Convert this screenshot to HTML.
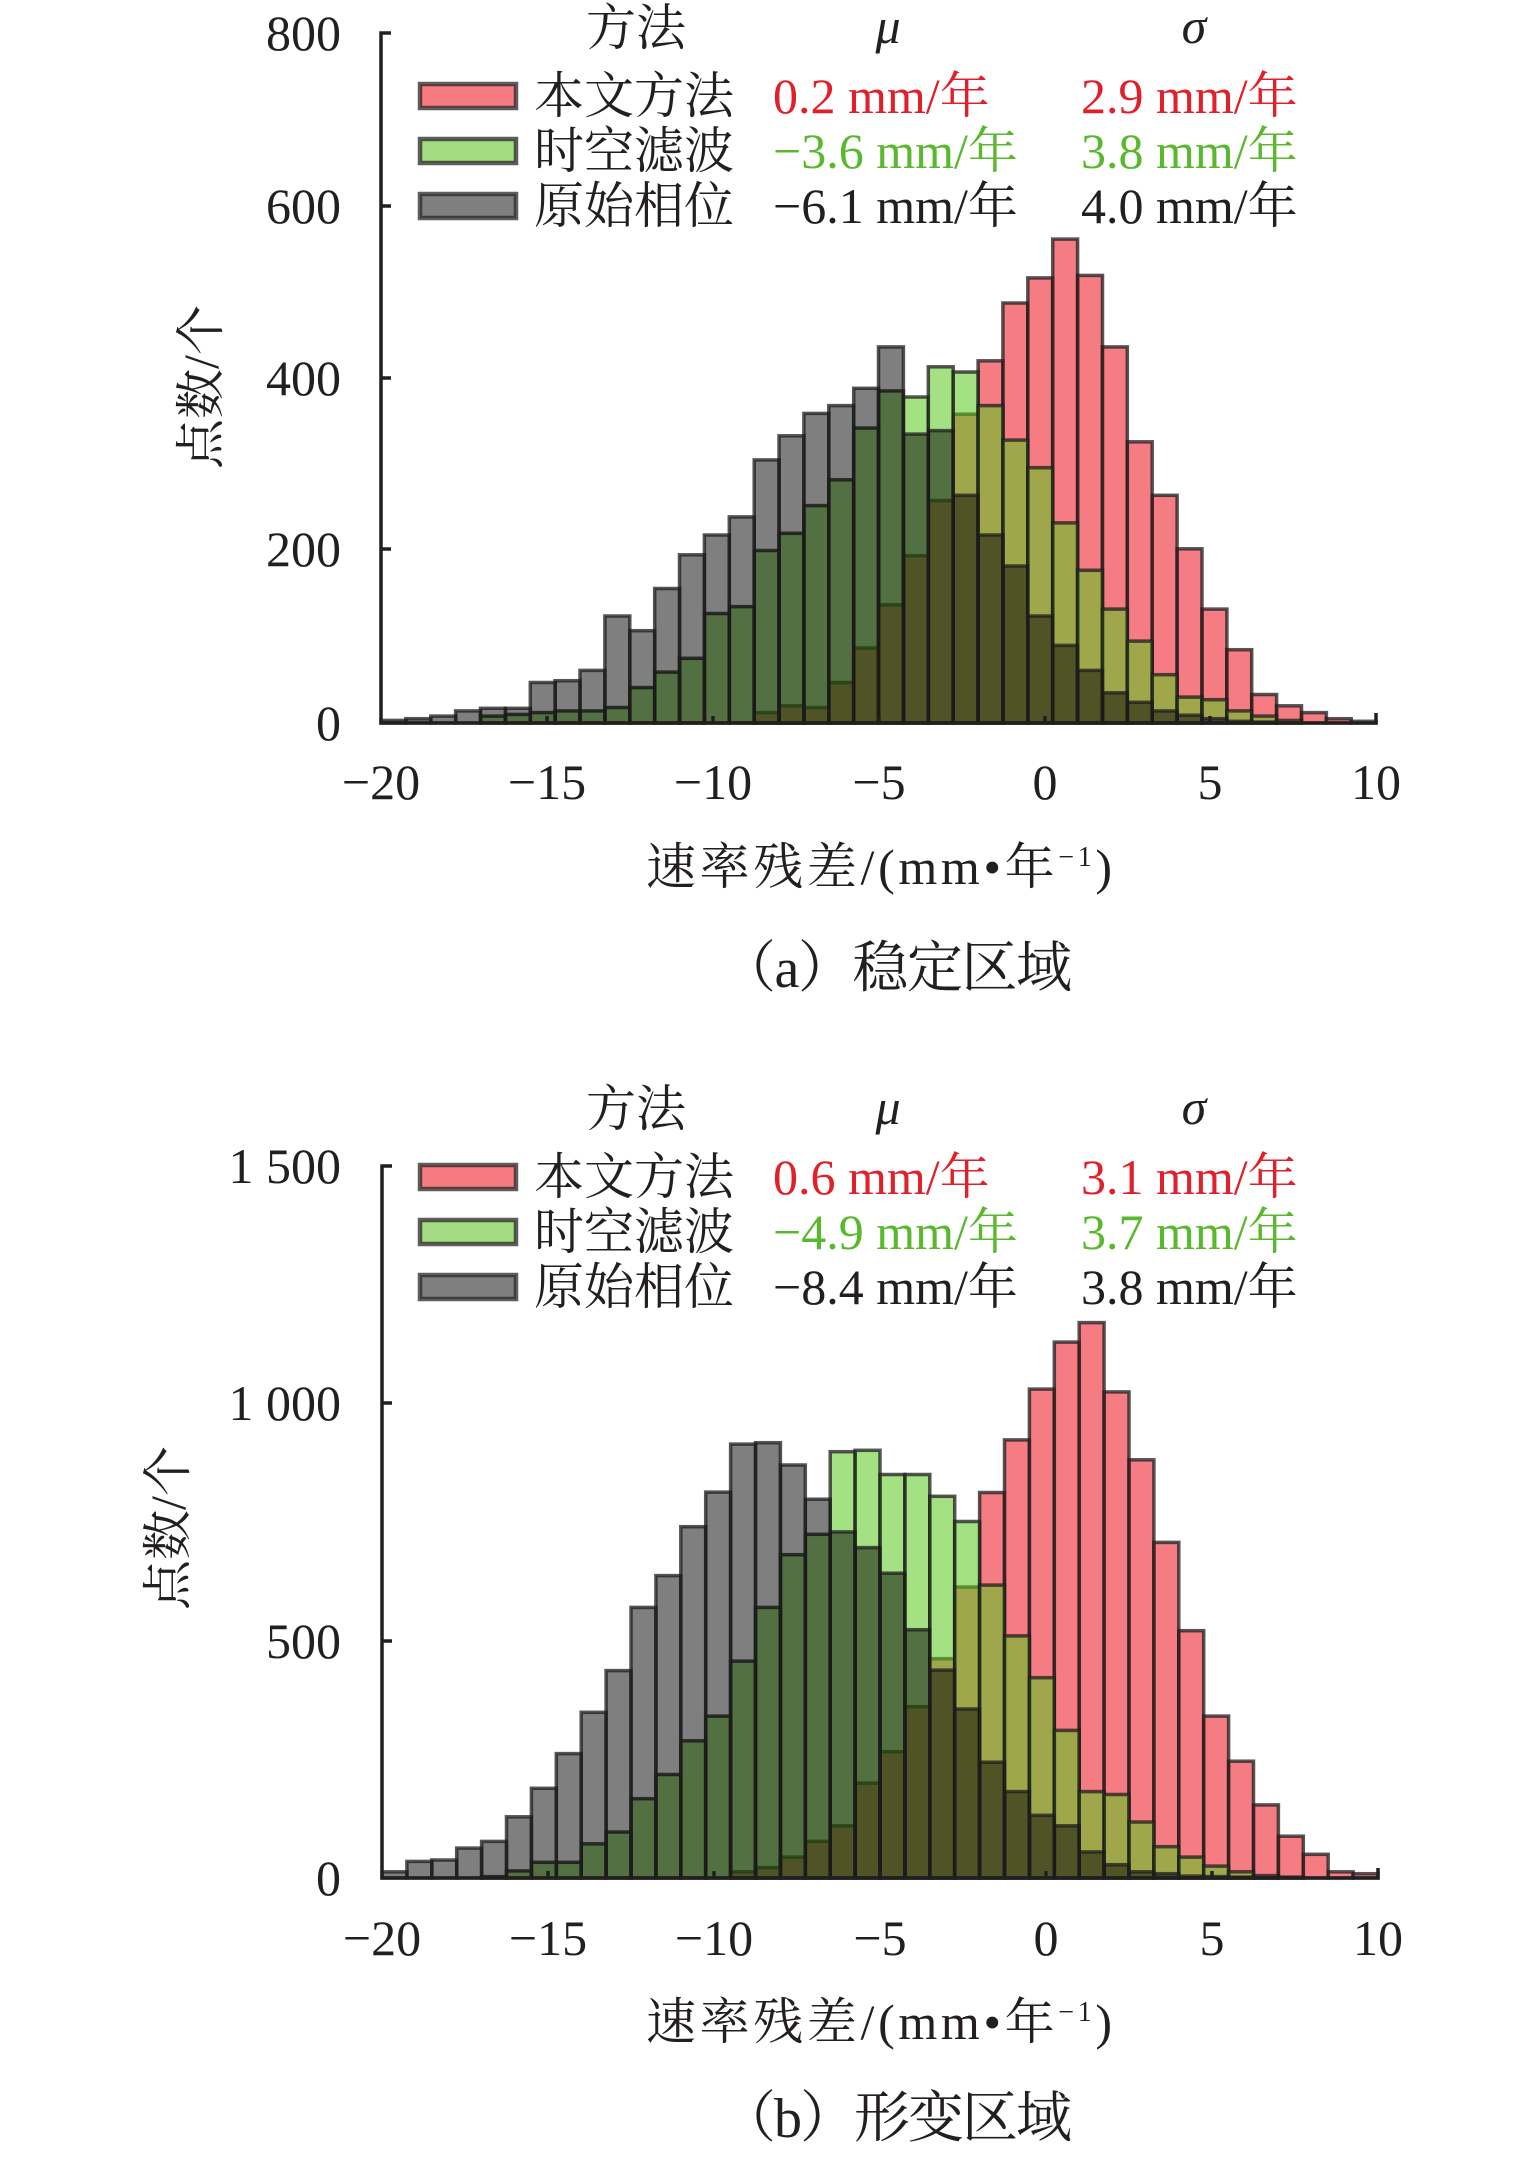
<!DOCTYPE html>
<html><head><meta charset="utf-8">
<style>
html,body{margin:0;padding:0;background:#fff;}
svg{display:block;}
text{font-family:"Liberation Serif","Noto Serif CJK SC",serif;fill:#231f20;}
</style></head>
<body>
<svg id="s" width="1535" height="2164" viewBox="0 0 1535 2164" xmlns="http://www.w3.org/2000/svg">
<g id="bars"></g>
<g id="axes" stroke="#231f20" stroke-width="3.5" fill="none">
  <path d="M391 33 H381 V723 H1376 V713"/>
  <path d="M381 206 H391 M381 378 H391 M381 549 H391"/>
  <path d="M547 723 V716 M713 723 V716 M879 723 V716 M1045 723 V716 M1210 723 V716"/>
  <path d="M392 1166 H382 V1878 H1378 V1868"/>
  <path d="M382 1403 H392 M382 1641 H392"/>
  <path d="M548 1878 V1871 M714 1878 V1871 M880 1878 V1871 M1046 1878 V1871 M1212 1878 V1871"/>
</g>
<g font-size="50" text-anchor="end">
  <text x="341" y="50">800</text>
  <text x="341" y="223">600</text>
  <text x="341" y="395">400</text>
  <text x="341" y="566">200</text>
  <text x="341" y="740">0</text>
  <text x="341" y="1183">1 500</text>
  <text x="341" y="1420">1 000</text>
  <text x="341" y="1658">500</text>
  <text x="341" y="1895">0</text>
</g>
<g font-size="50" text-anchor="middle">
  <text x="381" y="799">−20</text><text x="547" y="799">−15</text><text x="713" y="799">−10</text>
  <text x="879" y="799">−5</text><text x="1045" y="799">0</text><text x="1210" y="799">5</text><text x="1376" y="799">10</text>
  <text x="382" y="1955">−20</text><text x="548" y="1955">−15</text><text x="714" y="1955">−10</text>
  <text x="880" y="1955">−5</text><text x="1046" y="1955">0</text><text x="1212" y="1955">5</text><text x="1378" y="1955">10</text>
</g>
<text font-size="50" text-anchor="middle" transform="translate(218,387) rotate(-90)">点数/个</text>
<text font-size="50" text-anchor="middle" transform="translate(185,1528) rotate(-90)">点数/个</text>
<text font-size="50" x="646" y="884" textLength="466" lengthAdjust="spacing">速率残差/(mm•年<tspan font-size="28" dy="-18">−1</tspan><tspan dy="18">)</tspan></text>
<text font-size="50" x="646" y="2039" textLength="466" lengthAdjust="spacing">速率残差/(mm•年<tspan font-size="28" dy="-18">−1</tspan><tspan dy="18">)</tspan></text>
<text font-size="56" x="720" y="987" textLength="352" lengthAdjust="spacing">（a）稳定区域</text>
<text font-size="56" x="720" y="2137" textLength="352" lengthAdjust="spacing">（b）形变区域</text>
<g id="leg"></g>
</svg>
<script>
var NS="http://www.w3.org/2000/svg";
function el(p,t,a,txt){var e=document.createElementNS(NS,t);for(var k in a)e.setAttribute(k,a[k]);if(txt!==undefined)e.textContent=txt;p.appendChild(e);return e;}
var bars=document.getElementById('bars');
var A={x0:381,ux:33.17,y0:723,sy:0.8625,
red:[0,0,0,0,0,0,0,0,0,0,0,0,0,0,0,12,20,18,47,87,137,194,258,358,420,487,516,561,519,436,326,264,202,132,85,33,20,12,5,2],
green:[0,0,0,0,8,10,12,14,14,18,41,59,75,127,135,200,220,252,282,342,385,378,413,407,368,328,296,232,177,132,95,56,30,27,14,8,3,0,0,0],
gray:[3,5,8,14,17,17,47,49,61,124,107,156,195,218,239,305,333,359,368,388,436,335,339,264,218,182,124,90,61,35,24,14,9,5,2,1,0,0,0,0]};
var B={x0:382,ux:33.2,y0:1878,sy:0.4747,
red:[0,0,0,0,0,0,0,0,0,0,0,0,0,0,13,22,44,77,110,200,266,361,462,613,812,923,1030,1129,1170,1024,881,707,521,341,246,154,88,50,13,9],
green:[0,0,0,0,3,15,33,33,72,97,167,218,289,341,457,570,681,724,898,901,850,850,804,751,617,510,422,311,182,176,118,66,44,25,13,5,2,0,0,0],
gray:[13,35,38,63,77,129,189,262,349,437,570,637,740,813,914,917,870,798,729,696,642,523,438,356,244,182,132,110,55,28,13,9,4,3,2,1,0,0,0,0]};
var fills={red:"rgba(238,30,40,0.58)",green:"rgba(90,200,30,0.55)",gray:"rgba(0,0,0,0.5)"};
[A,B].forEach(function(C){
 ["red","green","gray"].forEach(function(k){
  var g=el(bars,'g',{fill:fills[k],stroke:"rgba(30,30,30,0.75)","stroke-width":"3.5"});
  C[k].forEach(function(v,i){ if(v<=0)return;
   var x=C.x0+i*0.75*C.ux,w=0.75*C.ux,h=v*C.sy;
   el(g,'rect',{x:x.toFixed(1),y:(C.y0-h).toFixed(1),width:w.toFixed(1),height:h.toFixed(1)});
  });
 });
});
var leg=document.getElementById('leg');
function legend(dy,rows){
 el(leg,'text',{x:636,y:45+dy,"font-size":50,"text-anchor":"middle"},"方法");
 el(leg,'text',{x:888,y:43+dy,"font-size":50,"text-anchor":"middle","font-style":"italic"},"μ");
 el(leg,'text',{x:1194,y:43+dy,"font-size":50,"text-anchor":"middle","font-style":"italic"},"σ");
 rows.forEach(function(r,i){
  var cy=[96,151,206][i]+dy;
  el(leg,'rect',{x:420,y:cy-12,width:96,height:24,fill:r[0],stroke:"rgba(40,40,40,0.75)","stroke-width":"4.5"});
  el(leg,'text',{x:534,y:cy+17,"font-size":50},r[1]);
  el(leg,'text',{x:773,y:cy+17,"font-size":50,style:"fill:"+r[4]},r[2]);
  el(leg,'text',{x:1081,y:cy+17,"font-size":50,style:"fill:"+r[4]},r[3]);
 });
}
legend(0,[["#f57b80","本文方法","0.2 mm/年","2.9 mm/年","#e0202a"],["#a3dc80","时空滤波","−3.6 mm/年","3.8 mm/年","#5ab82e"],["#7f7f7f","原始相位","−6.1 mm/年","4.0 mm/年","#231f20"]]);
legend(1081,[["#f57b80","本文方法","0.6 mm/年","3.1 mm/年","#e0202a"],["#a3dc80","时空滤波","−4.9 mm/年","3.7 mm/年","#5ab82e"],["#7f7f7f","原始相位","−8.4 mm/年","3.8 mm/年","#231f20"]]);
</script>
</body></html>
